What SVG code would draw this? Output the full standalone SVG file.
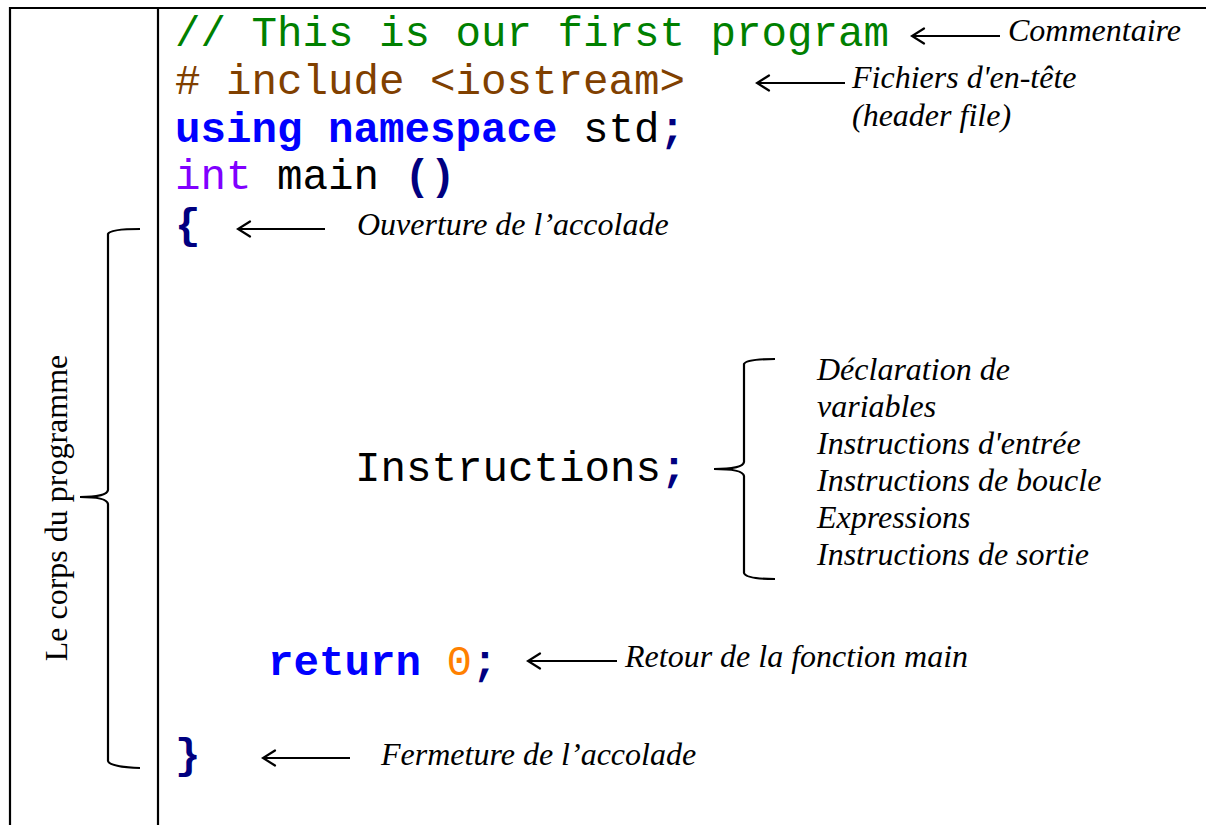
<svg xmlns="http://www.w3.org/2000/svg" width="1206" height="825" viewBox="0 0 1206 825">
  <style>
    .code { font-family: "Liberation Mono", "Courier New", monospace; font-size: 42.5px; }
    .b { font-weight: bold; }
    .cmt { fill: #008000; }
    .pre { fill: #804000; }
    .kw { fill: #0000FF; }
    .typ { fill: #8000FF; }
    .op { fill: #000080; font-weight: bold; }
    .num { fill: #FF8000; }
    .plain { fill: #000000; }
    .note { font-family: "Liberation Serif", "Times New Roman", serif; font-size: 32px; font-style: italic; fill: #000; }
    .side { font-family: "Liberation Serif", "Times New Roman", serif; font-size: 32px; fill: #000; }
    .frame { stroke: #000; stroke-width: 2.2; fill: none; }
    .brace { stroke: #000; stroke-width: 2.2; fill: none; }
    .arrow { stroke: #000; stroke-width: 2; fill: none; }
  </style>
  <defs>
    <!-- open "<"-style head; tip sits on the line end -->
    <marker id="head" viewBox="0 0 16 18" refX="14" refY="9" markerWidth="16" markerHeight="18" markerUnits="userSpaceOnUse" orient="auto">
      <path d="M2 1.5 L14 9 L2 16.5" stroke="#000" stroke-width="2.2" fill="none" stroke-linecap="round"/>
    </marker>
  </defs>

  <rect width="1206" height="825" fill="#fff"/>

  <!-- table frame -->
  <g id="frame">
    <path class="frame" d="M10 825 V8 H1206"/>
    <line class="frame" x1="158" y1="8" x2="158" y2="825"/>
  </g>

  <!-- side label with brace -->
  <g id="body-label">
    <path class="brace" d="M140 229 Q110 229 108 234 V490 Q107 497 80 497 Q107 497 108 504 V761 Q110 767 140 768"/>
    <text class="side" transform="translate(67 508) rotate(-90)" text-anchor="middle">Le corps du programme</text>
  </g>

  <!-- code lines -->
  <g id="code">
    <text class="code cmt" x="175" y="46">// This is our first program</text>
    <text class="code pre" x="175" y="94"># include &lt;iostream&gt;</text>
    <text class="code" x="175" y="142"><tspan class="kw b">using namespace</tspan><tspan class="plain"> std</tspan><tspan class="op">;</tspan></text>
    <text class="code" x="175" y="189"><tspan class="typ">int</tspan><tspan class="plain"> main </tspan><tspan class="op">()</tspan></text>
    <text class="code op" x="175" y="238">{</text>
    <text class="code" x="355" y="481"><tspan class="plain">Instructions</tspan><tspan class="op">;</tspan></text>
    <text class="code" x="268" y="675"><tspan class="kw b">return</tspan><tspan class="plain"> </tspan><tspan class="num">0</tspan><tspan class="op">;</tspan></text>
    <text class="code op" x="175" y="768">}</text>
  </g>

  <!-- annotations -->
  <g id="note-comment">
    <text class="note" x="1008" y="41">Commentaire</text>
  </g>
  <g id="note-header">
    <text class="note" x="852" y="88">Fichiers d'en-tête</text>
    <text class="note" x="852" y="126">(header file)</text>
  </g>
  <g id="note-open">
    <text class="note" x="357" y="235">Ouverture de l’accolade</text>
  </g>
  <g id="note-instructions">
    <path class="brace" d="M775 359 Q746 359 744 364 V462 Q743 469 714 469 Q743 469 744 476 V573 Q746 579 775 579"/>
    <text class="note" x="817" y="380">Déclaration de</text>
    <text class="note" x="817" y="417">variables</text>
    <text class="note" x="817" y="454">Instructions d'entrée</text>
    <text class="note" x="817" y="491">Instructions de boucle</text>
    <text class="note" x="817" y="528">Expressions</text>
    <text class="note" x="817" y="565">Instructions de sortie</text>
  </g>
  <g id="note-return">
    <text class="note" x="625" y="667">Retour de la fonction main</text>
  </g>
  <g id="note-close">
    <text class="note" x="381" y="765">Fermeture de l’accolade</text>
  </g>

  <!-- pointer arrows -->
  <g id="connectors">
    <line class="arrow" x1="1000" y1="36" x2="912" y2="36" marker-end="url(#head)"/>
    <line class="arrow" x1="845" y1="83" x2="757" y2="83" marker-end="url(#head)"/>
    <line class="arrow" x1="325" y1="229" x2="238" y2="229" marker-end="url(#head)"/>
    <line class="arrow" x1="617" y1="661" x2="528" y2="661" marker-end="url(#head)"/>
    <line class="arrow" x1="350" y1="758" x2="263" y2="758" marker-end="url(#head)"/>
  </g>
</svg>
